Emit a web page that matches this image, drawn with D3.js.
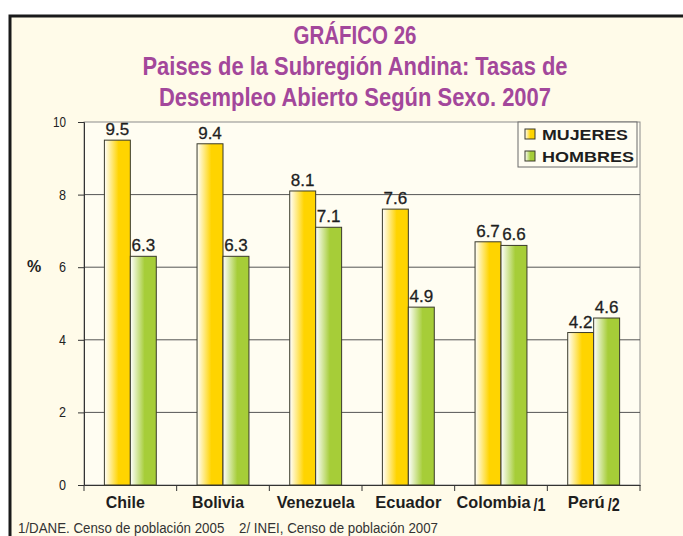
<!DOCTYPE html>
<html>
<head>
<meta charset="utf-8">
<script src="https://cdn.jsdelivr.net/npm/d3@7"></script>
<style>
  body { margin: 0; background: #fff; }
  svg { display: block; }
</style>
</head>
<body>
<script>
const width = 683;
const height = 536;
const margin = { top: 122, right: 43, bottom: 51, left: 84 };

const countries = ['Chile', 'Bolivia', 'Venezuela', 'Ecuador', 'Colombia', 'Perú'];
const notes = ['', '', '', '', '/1', '/2'];
const mujeres = [9.5, 9.4, 8.1, 7.6, 6.7, 4.2];
const hombres = [6.3, 6.3, 7.1, 4.9, 6.6, 4.6];
const seriesNames = ['MUJERES', 'HOMBRES'];
const yTicks = [0, 2, 4, 6, 8, 10];

const titleLines = [
  'GRÁFICO 26',
  'Paises de la Subregión Andina: Tasas de',
  'Desempleo Abierto Según Sexo. 2007'
];
const titleWidths = [123, 425, 392];
const labelWidths = [39, 52, 78, 66, 74, 37];
const footnote = '1/DANE. Censo de población 2005    2/ INEI, Censo de población 2007';

const sans = '"Liberation Sans", Arial, sans-serif';

const svg = d3.select('body').append('svg')
  .attr('width', width)
  .attr('height', height);

const defs = svg.append('defs');
const colors = { MUJERES: '#ffd400', HOMBRES: '#a6cd38' };
for (let name of seriesNames) {
  const g = defs.append('linearGradient')
    .attr('id', 'grad-' + name)
    .attr('x1', 0).attr('x2', 1).attr('y1', 0).attr('y2', 0);
  g.append('stop').attr('offset', '0%').attr('stop-color', '#ffffff');
  g.append('stop').attr('offset', '55%').attr('stop-color', colors[name]);
  g.append('stop').attr('offset', '100%').attr('stop-color', colors[name]);
}

// frame
svg.append('rect')
  .attr('x', 10).attr('y', 16)
  .attr('width', width).attr('height', height)
  .attr('fill', '#fffbe9')
  .attr('stroke', '#1a1a1a')
  .attr('stroke-width', 3);

// title
svg.append('g')
  .attr('font-family', sans)
  .attr('font-weight', 'bold')
  .attr('font-size', 25)
  .attr('fill', '#a3479b')
  .attr('text-anchor', 'middle')
  .selectAll('text')
  .data(titleLines)
  .join('text')
  .attr('x', 355)
  .attr('y', (d, i) => 44 + i * 31)
  .attr('textLength', (d, i) => titleWidths[i])
  .attr('lengthAdjust', 'spacingAndGlyphs')
  .text(d => d);

const x = d3.scaleBand()
  .domain(countries)
  .range([margin.left, width - margin.right])
  .paddingInner(0.44)
  .paddingOuter(0.22);

const x1 = d3.scaleBand()
  .domain(seriesNames)
  .range([0, x.bandwidth()]);

const y = d3.scaleLinear()
  .domain([0, 10])
  .range([height - margin.bottom, margin.top]);

// plot area
svg.append('rect')
  .attr('x', margin.left).attr('y', margin.top)
  .attr('width', width - margin.right - margin.left)
  .attr('height', y(0) - margin.top)
  .attr('fill', '#fffdf2')
  .attr('stroke', '#8c8c8c')
  .attr('stroke-width', 1);

// gridlines
svg.append('g')
  .selectAll('line')
  .data(yTicks.filter(d => d > 0 && d < 10))
  .join('line')
  .attr('x1', margin.left)
  .attr('x2', width - margin.right)
  .attr('y1', d => y(d))
  .attr('y2', d => y(d))
  .attr('stroke', '#555')
  .attr('stroke-width', 1);

// y axis
const yAxisG = svg.append('g')
  .attr('transform', `translate(${margin.left},0)`)
  .call(d3.axisLeft(y).tickValues(yTicks).tickSize(6).tickPadding(12));
yAxisG.select('.domain').attr('stroke', '#333');
yAxisG.selectAll('.tick line').attr('stroke', '#333');
yAxisG.selectAll('.tick text')
  .attr('font-family', sans)
  .attr('font-size', 14)
  .attr('fill', '#222')
  .attr('textLength', d => d >= 10 ? 13 : 7)
  .attr('lengthAdjust', 'spacingAndGlyphs');

svg.append('text')
  .attr('x', 34).attr('y', 272)
  .attr('font-family', sans)
  .attr('font-weight', 'bold')
  .attr('font-size', 16)
  .attr('text-anchor', 'middle')
  .attr('fill', '#222')
  .text('%');

// x axis
const xAxisG = svg.append('g')
  .attr('transform', `translate(0,${y(0)})`)
  .call(d3.axisBottom(x).tickSize(0).tickFormat(''));
xAxisG.select('.domain').attr('stroke', '#333');
xAxisG.selectAll('.tick').remove();

const plotW = width - margin.right - margin.left;
svg.append('g')
  .selectAll('line')
  .data(d3.range(countries.length + 1))
  .join('line')
  .attr('x1', i => margin.left + i * plotW / countries.length)
  .attr('x2', i => margin.left + i * plotW / countries.length)
  .attr('y1', y(0))
  .attr('y2', y(0) + 6)
  .attr('stroke', '#333');

const labels = svg.append('g')
  .attr('font-family', sans)
  .attr('font-weight', 'bold')
  .attr('font-size', 17)
  .attr('fill', '#1e1e1e')
  .attr('text-anchor', 'middle')
  .selectAll('text')
  .data(countries)
  .join('text')
  .attr('x', (d, i) => x(d) + x.bandwidth() / 2 - (i < 2 ? 5 : 0))
  .attr('y', y(0) + 23);
labels.append('tspan')
  .attr('textLength', (d, i) => labelWidths[i])
  .attr('lengthAdjust', 'spacingAndGlyphs')
  .text(d => d);
labels.filter((d, i) => notes[i]).append('tspan')
  .attr('dx', 3)
  .attr('dy', 3)
  .attr('font-size', 18)
  .attr('textLength', 12)
  .attr('lengthAdjust', 'spacingAndGlyphs')
  .text(d => notes[countries.indexOf(d)]);

// bars
const data = countries.map((c, i) => ({ country: c, values: [
  { key: 'MUJERES', value: mujeres[i] },
  { key: 'HOMBRES', value: hombres[i] }
] }));

const groups = svg.append('g')
  .selectAll('g')
  .data(data)
  .join('g')
  .attr('transform', d => `translate(${x(d.country)},0)`);

groups.selectAll('rect')
  .data(d => d.values)
  .join('rect')
  .attr('x', d => x1(d.key))
  .attr('y', d => y(d.value))
  .attr('width', x1.bandwidth())
  .attr('height', d => y(0) - y(d.value))
  .attr('fill', d => `url(#grad-${d.key})`)
  .attr('stroke', '#3a3a2a')
  .attr('stroke-width', 1);

groups.selectAll('text')
  .data(d => d.values)
  .join('text')
  .attr('x', d => x1(d.key) + x1.bandwidth() / 2)
  .attr('y', d => y(d.value) - 5)
  .attr('text-anchor', 'middle')
  .attr('font-family', sans)
  .attr('font-size', 17)
  .attr('stroke', '#1e1e1e')
  .attr('stroke-width', 0.3)
  .attr('fill', '#1e1e1e')
  .text(d => d3.format('.1f')(d.value));

// legend
const legend = svg.append('g')
  .attr('transform', 'translate(518,122)');
legend.append('rect')
  .attr('width', 119).attr('height', 45)
  .attr('fill', '#fffdf2')
  .attr('stroke', '#6b6b6b');
const li = legend.selectAll('g')
  .data(seriesNames)
  .join('g')
  .attr('transform', (d, i) => `translate(7,${7 + i * 22})`);
li.append('rect')
  .attr('width', 10).attr('height', 10)
  .attr('fill', d => `url(#grad-${d})`)
  .attr('stroke', '#3a3a2a');
li.append('text')
  .attr('x', 17).attr('y', 11)
  .attr('font-family', sans)
  .attr('font-weight', 'bold')
  .attr('font-size', 14.5)
  .attr('textLength', (d, i) => i === 0 ? 86 : 92)
  .attr('lengthAdjust', 'spacingAndGlyphs')
  .attr('fill', '#1e1e1e')
  .text(d => d);

// footnote
svg.append('text')
  .attr('x', 18).attr('y', 533)
  .attr('font-family', sans)
  .attr('font-size', 14)
  .attr('fill', '#333')
  .attr('textLength', 420)
  .attr('lengthAdjust', 'spacingAndGlyphs')
  .style('white-space', 'pre')
  .text(footnote);
</script>
</body>
</html>
